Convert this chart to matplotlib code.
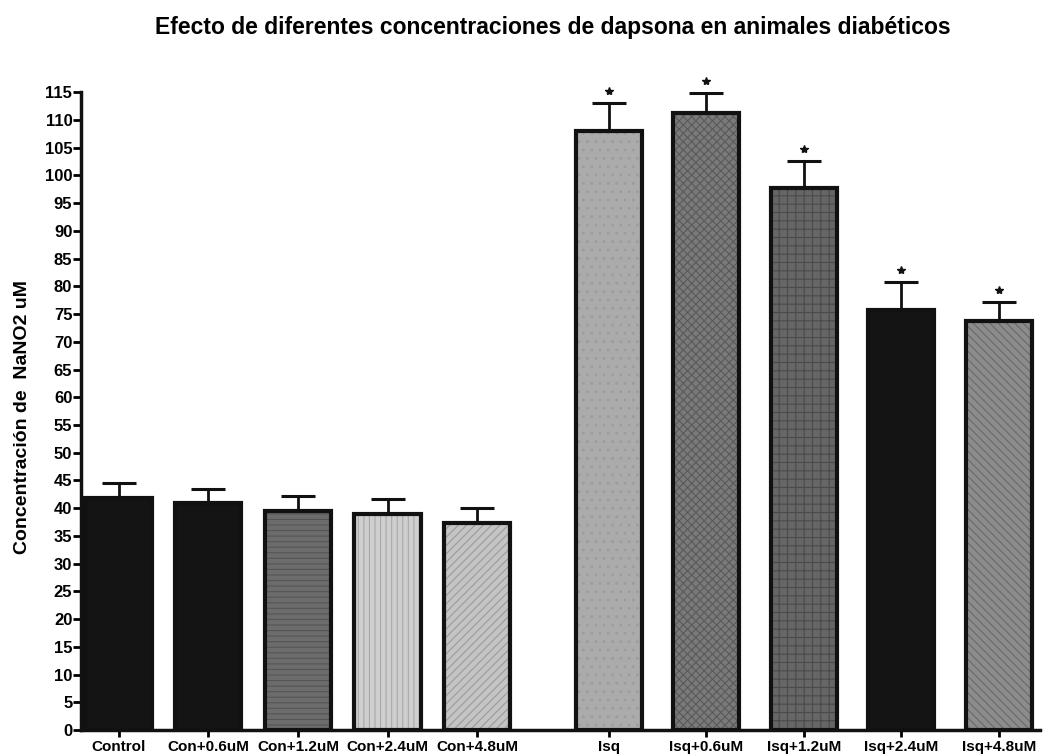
import numpy as np
import matplotlib
matplotlib.use("Agg")
import matplotlib.pyplot as plt

# data
groups = ["Control", "Con+0.6uM", "Con+1.2uM", "Con+2.4uM", "Con+4.8uM",
          "Isq", "Isq+0.6uM", "Isq+1.2uM", "Isq+2.4uM", "Isq+4.8uM"]
means = [41.9, 41.0, 39.5, 39.0, 37.4, 108.0, 111.3, 97.7, 75.8, 73.7]
sem = [2.6, 2.5, 2.7, 2.7, 2.7, 5.0, 3.6, 4.9, 4.9, 3.4]
signif = [False, False, False, False, False, True, True, True, True, True]

yticks = list(range(0, 116, 5))
title = "Efecto de diferentes concentraciones de dapsona en animales diabéticos"
ylabel = "Concentración de  NaNO2 uM"

# fill / hatch per bar (grey-scale like the original print)
fills = ["#141414", "#141414", "#6c6c6c", "#cfcfcf", "#c4c4c4",
         "#ababab", "#7a7a7a", "#666666", "#141414", "#8c8c8c"]
hatch_cols = ["#141414", "#141414", "#555555", "#a8a8a8", "#9a9a9a",
              "#9c9c9c", "#5a5a5a", "#4a4a4a", "#141414", "#6a6a6a"]
hatches = [None, None, "---", "|||", "////", "..", "xxxx", "++", None, "\\\\\\\\"]

plt.rcParams["font.family"] = ["Liberation Sans", "DejaVu Sans"]
plt.rcParams["font.weight"] = "bold"
plt.rcParams["hatch.linewidth"] = 0.8

fig = plt.figure(figsize=(10.47, 7.56), dpi=100)
ax = fig.add_axes([0.077, 0.0344, 0.916, 0.8436])

# left group sits a bit tighter than the right one in the original
x = np.r_[np.arange(5) * 0.92, 5.03 + np.arange(5)]
w = 0.68

for i in range(len(groups)):
    ax.bar(x[i], means[i], w, color=fills[i], hatch=hatches[i],
           edgecolor=hatch_cols[i], linewidth=0, zorder=2)
ax.bar(x, means, w, color="none", edgecolor="#111111", linewidth=3, zorder=3)

ax.errorbar(x, means, yerr=[np.zeros(len(sem)), sem], fmt="none",
            ecolor="#111111", elinewidth=2, capsize=12, capthick=2.2, zorder=4)

star_x = [x[i] for i in range(len(groups)) if signif[i]]
star_y = [means[i] + sem[i] + 2.2 for i in range(len(groups)) if signif[i]]
ax.plot(star_x, star_y, ls="none", marker="*", ms=6, color="#111111",
        clip_on=False, zorder=5)

ax.set_ylim(0, 115)
ax.set_xlim(-0.39, 9.45)
ax.set_yticks(yticks)
ax.set_xticks(x)
ax.set_xticklabels(groups, fontsize=11, fontweight="bold")
ax.tick_params(axis="y", labelsize=12, width=2, length=6, pad=0)
ax.tick_params(axis="x", width=2, length=5, pad=2)

for s in ["top", "right"]:
    ax.spines[s].set_visible(False)
for s in ["left", "bottom"]:
    ax.spines[s].set_linewidth(2.5)
    ax.spines[s].set_color("#111111")

ax.set_ylabel(ylabel, fontsize=14, fontweight="bold")
ax.yaxis.set_label_coords(-0.052, 0.49)
fig.text(0.528, 0.963, title, ha="center", va="center",
         fontsize=16.5, fontweight="bold")

fig.savefig("out.png", dpi=100)
